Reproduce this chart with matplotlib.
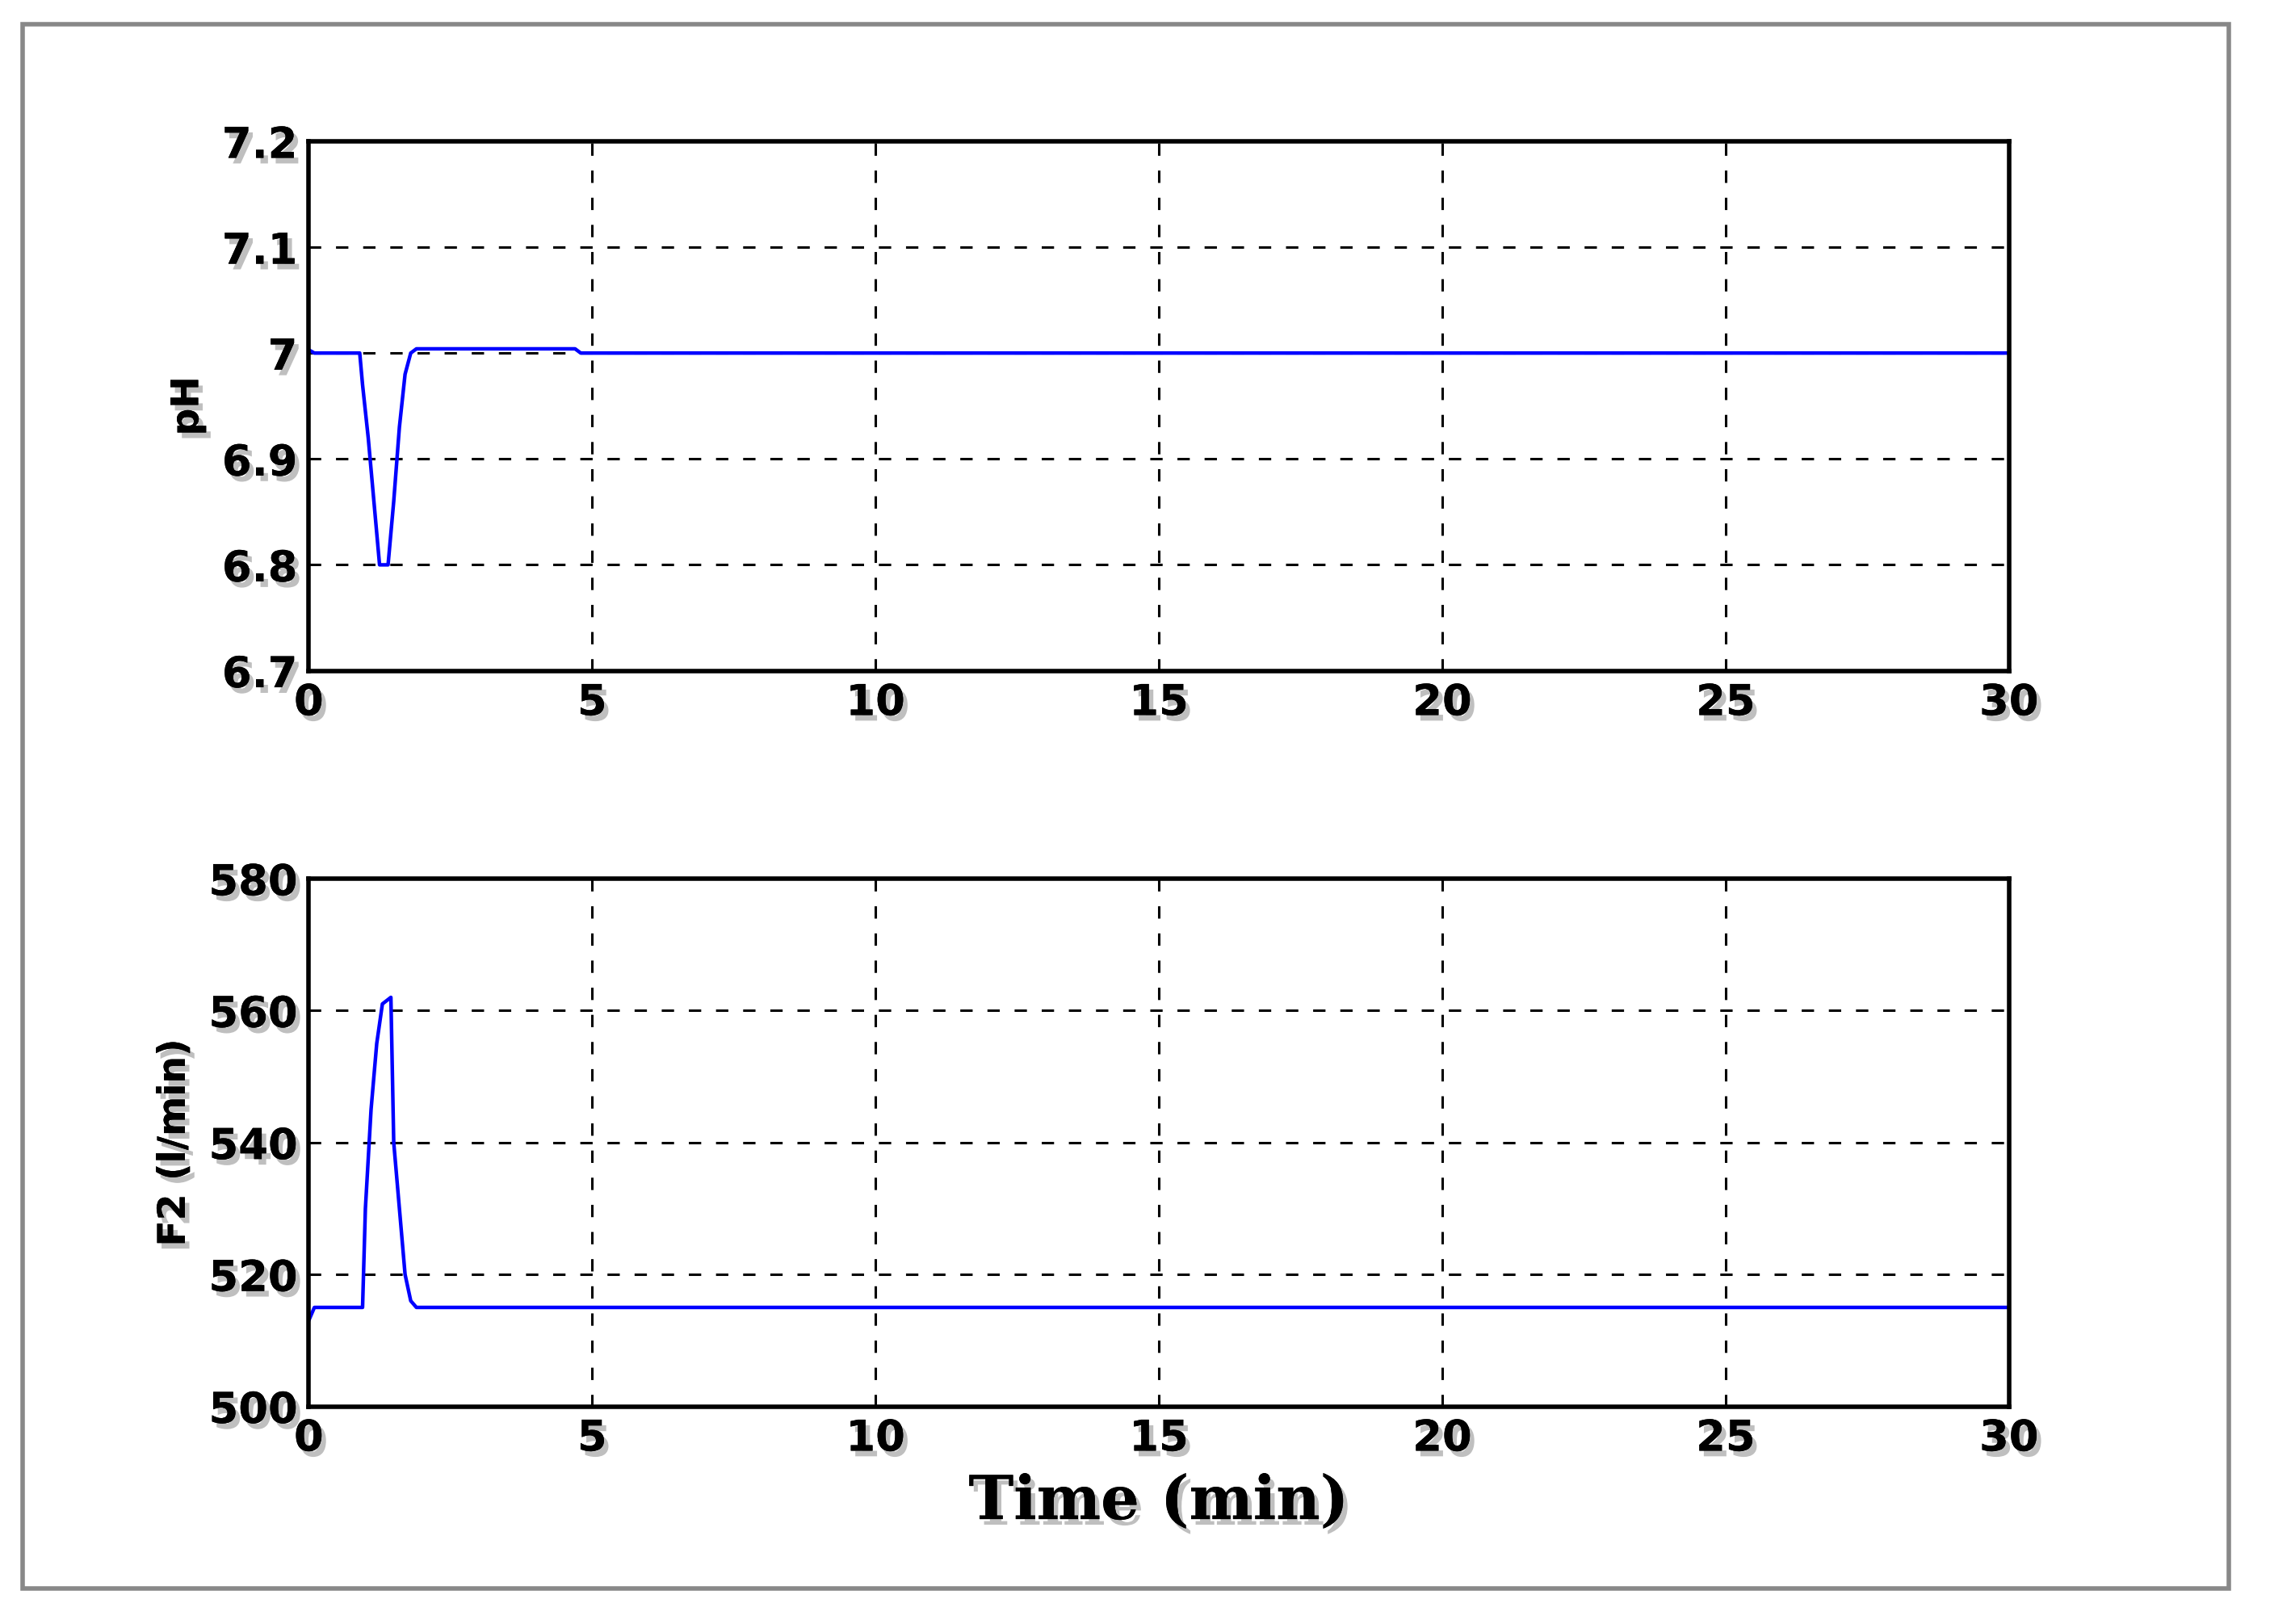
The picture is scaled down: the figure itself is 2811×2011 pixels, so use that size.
import numpy as np
import matplotlib.pyplot as plt
from matplotlib.patches import Rectangle
import matplotlib.patheffects as pe

# pH response
t_ph = [0, 0.1, 0.9, 0.95, 1.05, 1.15, 1.25, 1.4, 1.5, 1.6, 1.7, 1.8, 1.9, 4.7, 4.8, 30]
ph = [7.003, 7.0, 7.0, 6.97, 6.92, 6.86, 6.80, 6.80, 6.86, 6.93, 6.98, 7.0, 7.004, 7.004, 7.0, 7.0]

# F2 flow response
t_f2 = [0, 0.1, 0.95, 1.0, 1.1, 1.2, 1.3, 1.45, 1.5, 1.6, 1.7, 1.8, 1.9, 30]
f2 = [513, 515, 515, 530, 545, 555, 561, 562, 540, 530, 520, 516, 515, 515]

shadow = [pe.withSimplePatchShadow(offset=(4, -5), shadow_rgbFace='gray', alpha=0.5), pe.Normal()]

fig = plt.figure(figsize=(28.11, 20.11), dpi=100)
fig.patches.append(Rectangle((0.010, 0.022), 0.972, 0.963, transform=fig.transFigure,
                             fill=False, edgecolor='#888888', linewidth=4))

ax1 = fig.add_axes([0.136, 0.587, 0.749, 0.326])
ax2 = fig.add_axes([0.136, 0.134, 0.749, 0.325])

for ax, t, y, ylim, yt, ylab in [
    (ax1, t_ph, ph, (6.7, 7.2), [6.7, 6.8, 6.9, 7, 7.1, 7.2], "pH"),
    (ax2, t_f2, f2, (500, 580), [500, 520, 540, 560, 580], "F2 (l/min)"),
]:
    ax.plot(t, y, color='blue', linewidth=3.2)
    ax.set_xlim(0, 30)
    ax.set_ylim(*ylim)
    ax.set_xticks([0, 5, 10, 15, 20, 25, 30])
    ax.set_yticks(yt)
    ax.set_yticklabels([f"{v:g}" for v in yt])
    ax.grid(True, color='black', linestyle=(0, (5, 6)), linewidth=2.2)
    ax.tick_params(length=0, labelsize=38, pad=10)
    for lbl in ax.get_xticklabels() + ax.get_yticklabels():
        lbl.set_fontweight('heavy')
        lbl.set_path_effects(shadow)
    for s in ax.spines.values():
        s.set_linewidth(4)
    ax.set_ylabel(ylab, fontsize=34, fontweight='bold', labelpad=14, path_effects=shadow)

ax2.set_xlabel("Time (min)", fontsize=54, fontweight='bold', family='DejaVu Serif',
               labelpad=12, path_effects=shadow)

fig.savefig("out.png", dpi=100)
